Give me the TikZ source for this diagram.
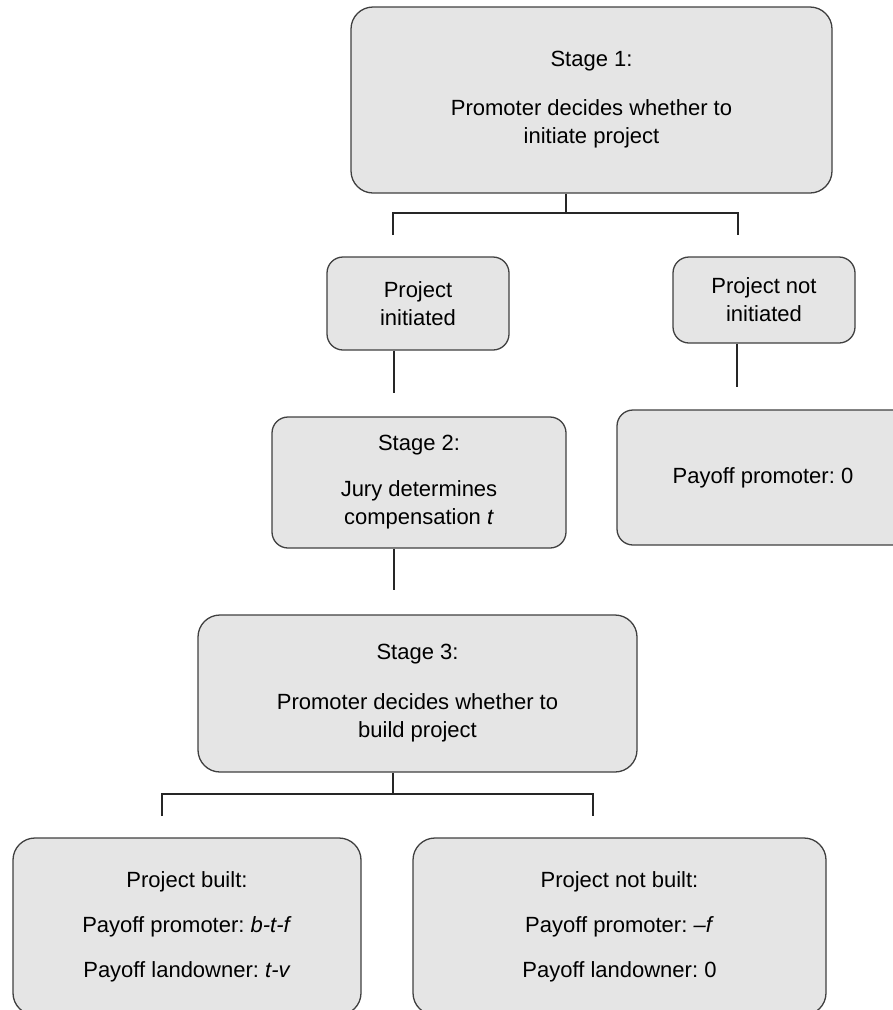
\documentclass[tikz,border=0pt]{standalone}
\usepackage{fontspec}
\setmainfont{Liberation Sans}
\frenchspacing
\begin{document}
\begin{tikzpicture}[x=1pt,y=-1pt,
  box/.style={draw=black!75, fill=black!10, line width=1.3pt, inner sep=0pt, align=center,
    font=\fontsize{22}{28}\selectfont\frenchspacing, anchor=center},
  bigbox/.style={box, rounded corners=22pt},
  smallbox/.style={box, rounded corners=16pt},
  conn/.style={draw=black!85, line width=1.4pt}]
\useasboundingbox (0,0) rectangle (893,1010);
\clip (0,0) rectangle (893,1010);

\node[bigbox, minimum width=481pt, minimum height=186pt] (s1) at (591.5,100)
  {Stage 1:\\[21pt]Promoter decides whether to\\initiate project};
\node[smallbox, minimum width=182pt, minimum height=93pt] (pi) at (418,303.5)
  {Project\\initiated};
\node[smallbox, minimum width=182pt, minimum height=86pt] (pn) at (764,300)
  {Project not\\initiated};
\node[smallbox, minimum width=294pt, minimum height=131pt] (s2) at (419,482.5)
  {Stage 2:\\[18pt]Jury determines\\compensation \textit{t}};
\node[smallbox, minimum width=292pt, minimum height=135pt] (p0) at (763,477.5)
  {Payoff promoter: 0};
\node[bigbox, minimum width=439pt, minimum height=157pt] (s3) at (417.5,693.5)
  {Stage 3:\\[22pt]Promoter decides whether to\\build project};
\node[bigbox, minimum width=348pt, minimum height=177pt] (pb) at (187,926.5)
  {Project built:\\[17pt]Payoff promoter: \textit{b-t-f}\\[17pt]Payoff landowner: \textit{t-v}};
\node[bigbox, minimum width=413pt, minimum height=177pt] (pnb) at (619.5,926.5)
  {Project not built:\\[17pt]Payoff promoter: \textit{–f}\\[17pt]Payoff landowner: 0};

% connectors stage 1
\coordinate (j1) at (566,213);
\coordinate (d1L) at (393,235);
\coordinate (d1R) at (738,235);
\draw[conn] (s1.south -| j1) -- (j1);
\draw[conn] (d1L) -- (d1L |- j1) -- (d1R |- j1) -- (d1R);
% from project initiated / not initiated
\coordinate (e1) at (394,393);
\coordinate (e2) at (737,387);
\draw[conn] (pi.south -| e1) -- (e1);
\draw[conn] (pn.south -| e2) -- (e2);
% from stage 2
\coordinate (e3) at (394,590);
\draw[conn] (s2.south -| e3) -- (e3);
% stage 3 split
\coordinate (j2) at (393,794);
\coordinate (d2L) at (162,816);
\coordinate (d2R) at (593,816);
\draw[conn] (s3.south -| j2) -- (j2);
\draw[conn] (d2L) -- (d2L |- j2) -- (d2R |- j2) -- (d2R);
\end{tikzpicture}
\end{document}
